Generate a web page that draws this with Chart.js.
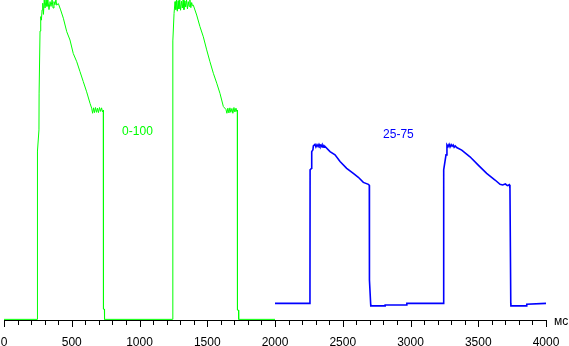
<!DOCTYPE html>
<html>
<head>
<meta charset="utf-8">
<script src="https://cdn.jsdelivr.net/npm/chart.js@4.4.1/dist/chart.umd.min.js"></script>
<style>
  html, body { margin: 0; padding: 0; background: #fff; }
  #wrap { width: 569px; height: 346px; position: relative; }
</style>
</head>
<body>
<div id="wrap"><canvas id="resp"></canvas></div>
<script>
// время, мс / уровень, % (0-100 переход)
const greenTime = [0, 246, 247, 258, 259, 266, 271, 276, 281, 286, 291, 297, 303, 310, 317, 324, 332, 340, 347, 355, 362, 369, 376, 383, 389, 401,
  418, 438, 463, 487, 511, 537, 561, 585, 610, 635, 647, 654, 661, 668, 675, 683, 690, 697, 705, 712, 720, 727, 733, 734, 741, 742,
  1245, 1246, 1255, 1262, 1268, 1273, 1279, 1285, 1291, 1297, 1303, 1310, 1316, 1322, 1328, 1335, 1341, 1347, 1354, 1360, 1366, 1372, 1379, 1385, 1391, 1397,
  1422, 1446, 1471, 1496, 1520, 1545, 1570, 1594, 1619, 1638, 1645, 1652, 1660, 1667, 1674, 1682, 1689, 1697, 1704, 1712, 1718, 1722, 1723, 1731, 1732, 2000];
const greenLevel = [0.2, 0.2, 52.8, 59.4, 70.9, 90.3, 94.8, 93.7, 96.9, 99, 95.5, 100, 97.5, 100, 98, 100, 97, 99.5, 98, 100, 97.5, 99.5, 98.5, 100, 98.4, 98.9,
  96.9, 94.3, 90.1, 87.5, 83.3, 80.7, 77.6, 74.5, 71.3, 67.7, 66.2, 64.6, 66.3, 64.8, 66.4, 64.9, 66.2, 64.8, 66.4, 65.2, 66.3, 65, 65.6, 3.4, 3.4, 0.2,
  0.2, 87.2, 95.8, 99.5, 97, 100, 96.5, 99.8, 97.2, 100, 96.8, 99.6, 97.5, 100, 97, 99.7, 97.8, 100, 97.2, 99.5, 98, 100, 97.6, 99.2, 98.2, 98.4,
  95.3, 91.7, 88.5, 84.4, 80.7, 77.1, 74, 70.8, 66.7, 65.8, 64.6, 66.2, 64.7, 66.3, 64.9, 66.1, 64.6, 66.4, 65, 66.2, 65.2, 65.6, 3.1, 3.1, 0.2, 0.2];

// 25-75 переход
const blueTime = [2000, 2258, 2259, 2270, 2271, 2280, 2283, 2295, 2302, 2310, 2318, 2325, 2332, 2340, 2347, 2354, 2362, 2369,
  2406, 2443, 2480, 2529, 2578, 2615, 2652, 2689, 2696, 2697, 2706, 2707, 2721, 2812, 2813, 2972, 2973, 3242, 3243, 3247,
  3262, 3269, 3277, 3285, 3292, 3300, 3307, 3315, 3322, 3330, 3341, 3378, 3439, 3500, 3562, 3624, 3661, 3680, 3700, 3715, 3729, 3734, 3740, 3741, 3751, 3857, 3858, 4000];
const blueLevel = [5.2, 5.2, 46.9, 47.4, 52.6, 53.2, 54.4, 54.9, 54.1, 54.8, 54.2, 54.9, 54.3, 54.7, 54.1, 54.6, 54.0, 54.2,
  52.6, 51.6, 49.5, 47.4, 45.8, 44.6, 43, 42.4, 42.1, 12.5, 5.0, 4.4, 4.4, 4.4, 4.7, 4.7, 5.2, 5.2, 6.8, 46.9,
  51.6, 54.7, 54.2, 54.9, 54.1, 54.8, 54.3, 54.7, 54.0, 54.4, 53.9, 53.1, 51, 48.4, 45.8, 43.75, 42.4, 42.2, 42.5, 42.0, 42.3, 41.2, 5.3, 4.4, 4.4, 4.4, 4.9, 5.2];

const xMin = 0, xMax = 4000, xStep = 100, xLabelEvery = 500;
const seriesLabels = ['0-100', '25-75'];
const labelSpots = [[985, 58.8], [2911, 57.9]];
const unitLabel = 'мс';

const green = '#00ff00';
const blue = '#0000ff';
const font = '12px "Liberation Sans", Arial, sans-serif';

function pts(xs, ys) {
  return xs.map((x, i) => ({ x: x, y: ys[i] }));
}

const axisExtras = {
  id: 'axisExtras',
  afterDraw(chart) {
    const ctx = chart.ctx;
    const xs = chart.scales.x;
    const ys = chart.scales.y;
    const top = xs.top;
    ctx.save();
    // засечки
    ctx.strokeStyle = '#000';
    ctx.lineWidth = 1;
    ctx.beginPath();
    xs.ticks.forEach(t => {
      const px = Math.round(xs.getPixelForValue(t.value)) + 0.5;
      const len = t.value % xLabelEvery === 0 ? 7 : 5;
      ctx.moveTo(px, top);
      ctx.lineTo(px, top + len);
    });
    ctx.stroke();
    // подписи
    ctx.font = font;
    ctx.fillStyle = '#000';
    ctx.textAlign = 'left';
    ctx.textBaseline = 'alphabetic';
    ctx.fillText(unitLabel, xs.right + 8, top + 5);
    ctx.textAlign = 'center';
    ctx.textBaseline = 'middle';
    [green, blue].forEach((c, i) => {
      ctx.fillStyle = c;
      ctx.fillText(seriesLabels[i], xs.getPixelForValue(labelSpots[i][0]), ys.getPixelForValue(labelSpots[i][1]));
    });
    ctx.restore();
  }
};

new Chart(document.getElementById('resp'), {
  type: 'line',
  data: {
    datasets: [
      { label: seriesLabels[0], data: pts(greenTime, greenLevel), borderColor: green, borderWidth: 1 },
      { label: seriesLabels[1], data: pts(blueTime, blueLevel), borderColor: blue, borderWidth: 1.6 }
    ]
  },
  options: {
    responsive: true,
    maintainAspectRatio: false,
    animation: false,
    layout: { padding: { left: 4, right: 23, top: 0, bottom: 0 } },
    elements: { point: { radius: 0 }, line: { tension: 0, fill: false } },
    plugins: { legend: { display: false }, tooltip: { enabled: false } },
    scales: {
      x: {
        type: 'linear',
        min: xMin,
        max: xMax,
        afterFit(scale) { scale.height = 26; scale.paddingLeft = 0; scale.paddingRight = 0; },
        grid: { drawOnChartArea: false, drawTicks: true, tickLength: 7, color: 'rgba(0,0,0,0)' },
        border: { display: true, color: '#000', width: 1 },
        ticks: {
          stepSize: xStep,
          autoSkip: false,
          maxRotation: 0,
          padding: 8,
          color: '#000',
          font: { family: '"Liberation Sans", Arial, sans-serif', size: 12 },
          callback: v => (v % xLabelEvery === 0 ? String(v) : '')
        }
      },
      y: { display: false, min: 0, max: 100 }
    }
  },
  plugins: [axisExtras]
});
</script>
</body>
</html>
